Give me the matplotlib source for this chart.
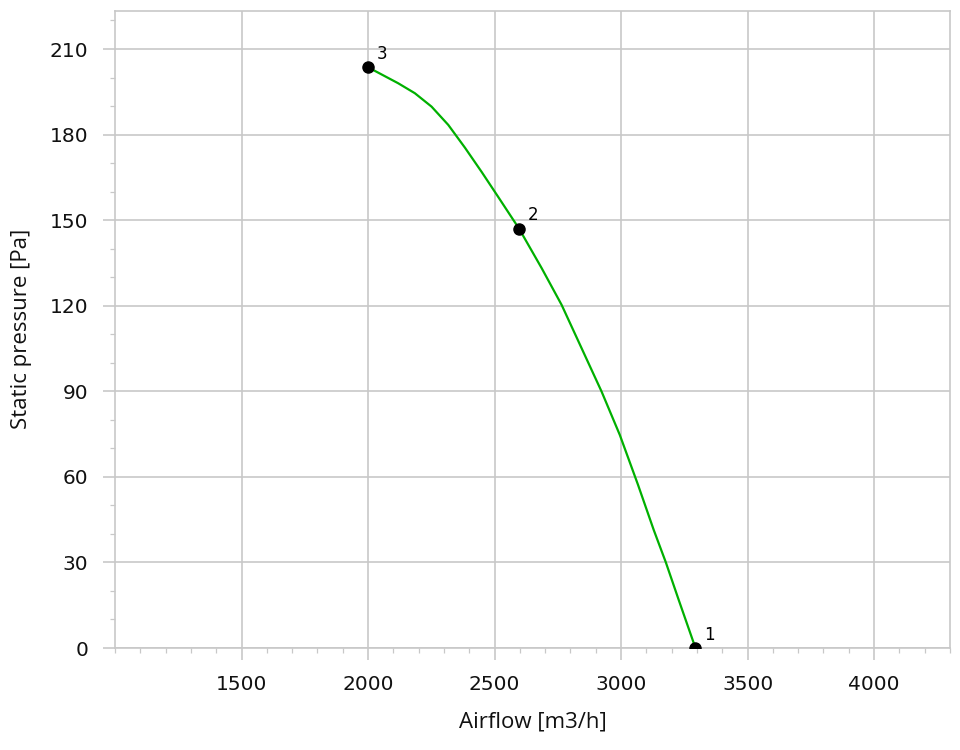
import matplotlib.pyplot as plt
from matplotlib.ticker import MultipleLocator

# fan curve
airflow = [2000, 2119, 2185, 2251, 2317, 2383, 2449, 2514, 2597, 2686, 2765,
           2844, 2923, 2995, 3067, 3129, 3177, 3228, 3294]
pressure = [203.6, 198.0, 194.5, 189.8, 183.4, 175.4, 166.9, 158.2, 147.0, 133.2, 120.3,
            105.1, 89.9, 74.7, 57.2, 41.4, 30.0, 16.8, 0.0]

# numbered operating points
point_labels = ["1", "2", "3"]
point_x = [3294, 2597, 2000]
point_y = [0.0, 147.0, 203.6]

grey = "#c8c8c8"
ink = "#111111"

fig = plt.figure(figsize=(9.6, 7.5), dpi=100)
ax = fig.add_axes([0.1198, 0.136, 0.8698, 0.85])

ax.plot(airflow, pressure, color="#00b000", linewidth=1.6, zorder=3)
ax.plot(point_x, point_y, "o", color="black", markersize=8, zorder=4)
for lab, px, py in zip(point_labels, point_x, point_y):
    ax.annotate(lab, (px, py), xytext=(6, 6), textcoords="offset points",
                fontsize=12, color="black", family="DejaVu Sans")

ax.set_xlim(1000, 4300)
ax.set_ylim(0, 223.5)
ax.xaxis.set_major_locator(MultipleLocator(500))
ax.xaxis.set_minor_locator(MultipleLocator(100))
ax.yaxis.set_major_locator(MultipleLocator(30))
ax.yaxis.set_minor_locator(MultipleLocator(10))
ax.set_xticks([1500, 2000, 2500, 3000, 3500, 4000])

ax.grid(True, which="major", color=grey, linewidth=1.2)
for s in ax.spines.values():
    s.set_color(grey)
    s.set_linewidth(1.2)

ax.tick_params(which="major", length=8.6, width=1.2, color=grey, pad=10.5,
               labelsize=14.5, labelcolor=ink)
ax.tick_params(which="minor", length=3.6, width=0.9, color=grey)
for t in ax.get_xticklabels() + ax.get_yticklabels():
    t.set_family("DejaVu Sans")

ax.set_xlabel("Airflow [m3/h]", fontsize=16, family="Open Sans", color=ink, labelpad=13)
ax.set_ylabel("Static pressure [Pa]", fontsize=16, family="Open Sans", color=ink, labelpad=13)

fig.savefig("out.png", dpi=100)
